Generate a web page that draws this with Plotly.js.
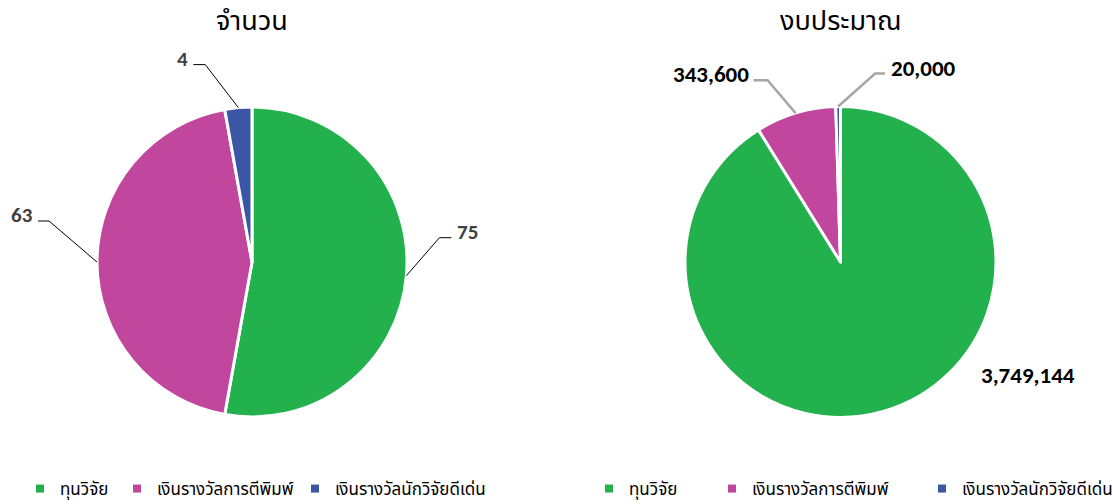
<!DOCTYPE html>
<html>
<head>
<meta charset="utf-8">
<script src="https://cdn.plot.ly/plotly-3.0.1.min.js"></script>
<style>html,body{margin:0;padding:0;background:#fff;}#chart{width:1113px;height:504px;}</style>
</head>
<body>
<div id="chart"></div>
<script>
// ---- data ----
const categories = ['ทุนวิจัย', 'เงินรางวัลการตีพิมพ์', 'เงินรางวัลนักวิจัยดีเด่น'];
const countValues = [75, 63, 4];
const budgetValues = [3749144, 343600, 20000];
const chartTitles = ['จำนวน', 'งบประมาณ'];
const colors = ['#22B14C', '#C0479D', '#3A56A5'];

// ---- layout helpers (pixel -> paper) ----
const W = 1113, H = 504;
const FONT = "Tahoma, 'Noto Sans Thai', 'Leelawadee UI', 'DejaVu Sans', sans-serif";
const px = x => x / W;
const py = y => 1 - y / H;

const pies = [
  {values: countValues, cx: 252, cy: 262, r: 155, legendX: [20, 117, 295]},
  {values: budgetValues, cx: 840.5, cy: 262, r: 155.5, legendX: [589, 712, 922]}
];

// label styling
const labelStyles = [
  [
    {ex: 33, ey: -38, tail: 12, color: '#404040', line: '#000', lw: 1, size: 21},
    {ex: -48, ey: -41, tail: -11, color: '#404040', line: '#000', lw: 1, size: 21},
    {ex: -33, ey: -43, tail: -12, color: '#404040', line: '#000', lw: 1, size: 21}
  ],
  [
    {ex: 145, ey: -31, tail: 0, color: '#000', line: null, lw: 0, center: true, size: 23},
    {ex: -28, ey: -33, tail: -14, color: '#000', line: '#A6A6A6', lw: 2.5, size: 23},
    {ex: 37, ey: -33, tail: 10, color: '#000', line: '#A6A6A6', lw: 2.5, size: 23}
  ]
];

const fmt = v => v.toLocaleString('en-US');

const traces = [];
const shapes = [];
const annotations = [];
const layout = {
  width: W, height: H,
  margin: {l: 0, r: 0, t: 0, b: 0, autoexpand: false},
  paper_bgcolor: '#fff', plot_bgcolor: 'rgba(0,0,0,0)',
  showlegend: true,
  xaxis: {visible: false, range: [0, 1]},
  yaxis: {visible: false, range: [0, 1]}
};

let legendIdx = 0;
pies.forEach((p, pi) => {
  traces.push({
    type: 'pie',
    labels: categories,
    values: p.values,
    sort: false,
    direction: 'clockwise',
    rotation: 0,
    textinfo: 'none',
    hoverinfo: 'label+value',
    marker: {colors: colors, line: {color: '#ffffff', width: 3}},
    domain: {x: [px(p.cx - p.r), px(p.cx + p.r)], y: [py(p.cy + p.r), py(p.cy - p.r)]},
    showlegend: false
  });
  // legend entries (one legend box per entry so spacing follows the reference)
  categories.forEach((c, i) => {
    legendIdx++;
    const lname = legendIdx === 1 ? 'legend' : 'legend' + legendIdx;
    traces.push({
      type: 'scatter', mode: 'markers', x: [null], y: [null], name: c,
      marker: {color: colors[i], symbol: 'square', size: 8},
      legend: lname, showlegend: true, hoverinfo: 'skip'
    });
    layout[lname] = {
      orientation: 'h', yanchor: 'middle', xanchor: 'left',
      xref: 'container', yref: 'container',
      x: px(p.legendX[i]), y: py(489),
      font: {family: FONT, size: 17, color: '#000'},
      bgcolor: 'rgba(0,0,0,0)', itemwidth: 30
    };
  });
  const total = p.values.reduce((a, b) => a + b, 0);
  let cum = 0;
  p.values.forEach((v, i) => {
    const mid = (cum + v / 2) / total * 2 * Math.PI;
    cum += v;
    const sx = p.cx + p.r * Math.sin(mid);
    const sy = p.cy - p.r * Math.cos(mid);
    const st = labelStyles[pi][i];
    const exx = sx + st.ex, eyy = sy + st.ey;
    const tx = exx + st.tail;
    if (st.line) {
      shapes.push({
        type: 'path', xref: 'paper', yref: 'paper',
        path: `M ${px(sx)} ${py(sy)} L ${px(exx)} ${py(eyy)} L ${px(tx)} ${py(eyy)}`,
        line: {color: st.line, width: st.lw}
      });
    }
    let xanchor = 'center';
    let ax = tx;
    if (!st.center) {
      xanchor = st.tail > 0 ? 'left' : 'right';
      ax = tx + (st.tail > 0 ? 4 : -3);
    }
    annotations.push({
      xref: 'paper', yref: 'paper', x: px(ax), y: py(eyy - 6),
      xanchor: xanchor, yanchor: 'middle', showarrow: false,
      text: '<b>' + fmt(v) + '</b>',
      font: {family: 'Calibri, Carlito, Lato, sans-serif', size: st.size, color: st.color}
    });
  });
  annotations.push({
    xref: 'paper', yref: 'paper', x: px(p.cx), y: py(22),
    xanchor: 'center', yanchor: 'middle', showarrow: false,
    text: chartTitles[pi],
    font: {family: FONT, size: 27, color: '#000'}
  });
});

layout.shapes = shapes;
layout.annotations = annotations;

Plotly.newPlot('chart', traces, layout, {displayModeBar: false, staticPlot: true});
</script>
</body>
</html>
